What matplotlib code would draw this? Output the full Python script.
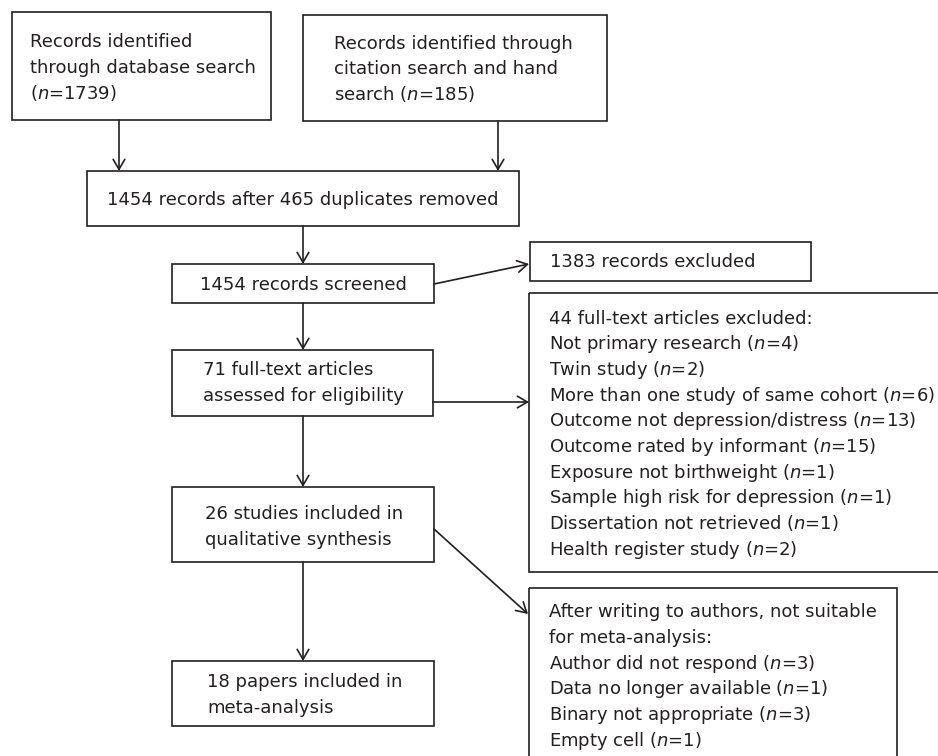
import matplotlib
matplotlib.use('Agg')
import matplotlib.pyplot as plt
from matplotlib.patches import Rectangle

plt.rcParams['font.family'] = ['DejaVu Sans']
plt.rcParams['mathtext.fontset'] = 'custom'
plt.rcParams['mathtext.rm'] = 'DejaVu Sans'
plt.rcParams['mathtext.it'] = 'DejaVu Sans:italic'

# counts in the flow
n_database = 1739
n_hand = 185
n_after_dup = 1454
n_duplicates = 465
n_screened = 1454
n_excluded = 1383
n_fulltext = 71
n_ft_excluded = 44
n_qualitative = 26
n_meta = 18

# full-text exclusion reasons
ft_reasons = ['Not primary research', 'Twin study', 'More than one study of same cohort',
              'Outcome not depression/distress', 'Outcome rated by informant',
              'Exposure not birthweight', 'Sample high risk for depression',
              'Dissertation not retrieved', 'Health register study']
ft_counts = [4, 2, 6, 13, 15, 1, 1, 1, 2]

# not suitable for meta-analysis
ma_reasons = ['Author did not respond', 'Data no longer available',
              'Binary not appropriate', 'Empty cell']
ma_counts = [3, 1, 3, 1]

ink = '#231f20'
fs = 13
lw = 1.2

fig = plt.figure(figsize=(9.38, 7.56), dpi=100)
ax = fig.add_axes([0, 0, 1, 1])
ax.set_xlim(0, 938)
ax.set_ylim(756, 0)
ax.axis('off')


def nlab(k):
    return '($n$=%d)' % k


def box(x0, y0, x1, y1):
    ax.add_patch(Rectangle((x0, y0), x1 - x0, y1 - y0, fill=False,
                           ec=ink, lw=lw, clip_on=True))


def lines(x, y0, dy, txts, ha='left'):
    for i, t in enumerate(txts):
        ax.text(x, y0 + i * dy, t, ha=ha, va='baseline', fontsize=fs, color=ink)


def arrow(x0, y0, x1, y1):
    ax.annotate('', xy=(x1, y1), xytext=(x0, y0),
                arrowprops=dict(arrowstyle='->,head_length=0.6,head_width=0.35',
                                lw=lw, color=ink, shrinkA=0, shrinkB=0,
                                mutation_scale=12))


# identification
box(12, 12, 271, 120)
lines(30, 47, 26, ['Records identified', 'through database search', nlab(n_database)])
box(303, 15, 607, 121)
lines(334, 49, 25.5, ['Records identified through', 'citation search and hand',
                      'search ' + nlab(n_hand)])
arrow(119, 120, 119, 171)
arrow(498, 121, 498, 171)

box(87, 171, 519, 226)
lines(303, 205, 0, ['%d records after %d duplicates removed' % (n_after_dup, n_duplicates)],
      ha='center')
arrow(303, 226, 303, 264)

# screening
box(172, 264, 434, 303)
lines(303, 290, 0, ['%d records screened' % n_screened], ha='center')
arrow(434, 284, 529, 264)
box(530, 242, 811, 281)
lines(550, 267, 0, ['%d records excluded' % n_excluded])
arrow(303, 303, 303, 350)

# eligibility
box(172, 350, 433, 416)
lines(203, 375, 26, ['%d full-text articles' % n_fulltext, 'assessed for eligibility'])
arrow(433, 402, 529, 402)
box(529, 293, 960, 572)
lines(549, 323.5, 25.7, ['%d full-text articles excluded:' % n_ft_excluded] +
      [r + ' ' + nlab(c) for r, c in zip(ft_reasons, ft_counts)])
arrow(303, 416, 303, 487)

# included
box(172, 487, 434, 562)
lines(205, 519, 26, ['%d studies included in' % n_qualitative, 'qualitative synthesis'])
arrow(434, 529, 528, 614)
box(529, 588, 897, 780)
lines(549, 617, 25.8, ['After writing to authors, not suitable', 'for meta-analysis:'] +
      [r + ' ' + nlab(c) for r, c in zip(ma_reasons, ma_counts)])
arrow(303, 562, 303, 661)

box(172, 661, 434, 726)
lines(207, 687, 26, ['%d papers included in' % n_meta, 'meta-analysis'])

fig.savefig('out.png', dpi=100)
